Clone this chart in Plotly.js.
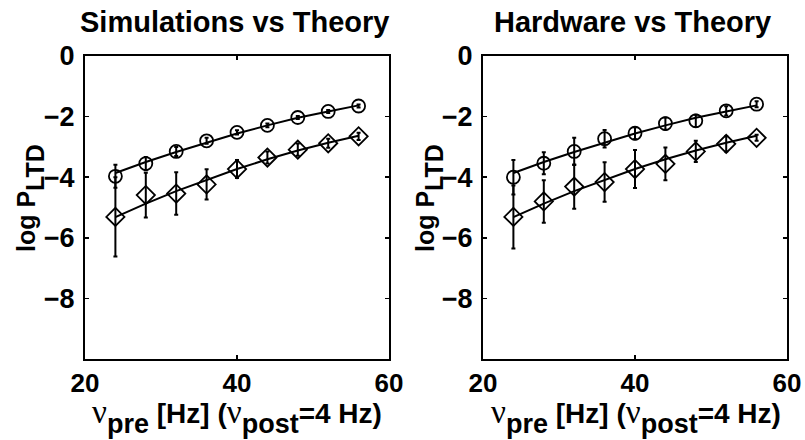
<!DOCTYPE html>
<html>
<head>
<meta charset="utf-8">
<script src="https://cdn.plot.ly/plotly-3.0.1.min.js"></script>
<style>html,body{margin:0;padding:0;background:#fff;}</style>
</head>
<body>
<div id="chart" style="width:805px;height:440px;"></div>
<script>
// Pre-synaptic rates (Hz)
var nuPre = [24, 28, 32, 36, 40, 44, 48, 52, 56];

// Theory curves (log P_LTD)
var theoryCircle  = [-3.86, -3.50, -3.17, -2.86, -2.56, -2.29, -2.04, -1.83, -1.63];
var theoryDiamond = [-5.32, -4.87, -4.46, -4.09, -3.73, -3.41, -3.12, -2.86, -2.63];

// Simulations panel
var simCircle      = [-3.97, -3.55, -3.15, -2.80, -2.52, -2.29, -2.03, -1.83, -1.65];
var simCircleErr   = [0.38, 0.22, 0.15, 0.10, 0.07, 0.06, 0.05, 0.05, 0.05];
var simDiamond     = [-5.31, -4.59, -4.54, -4.24, -3.73, -3.35, -3.09, -2.88, -2.65];
var simDiamondErr  = [1.31, 0.74, 0.70, 0.50, 0.30, 0.20, 0.20, 0.15, 0.12];

// Hardware panel
var hwCircle       = [-4.00, -3.54, -3.15, -2.73, -2.55, -2.23, -2.14, -1.81, -1.59];
var hwCircleErr    = [0.57, 0.36, 0.45, 0.29, 0.20, 0.20, 0.20, 0.15, 0.10];
var hwDiamond      = [-5.31, -4.80, -4.31, -4.16, -3.73, -3.56, -3.15, -2.90, -2.70];
var hwDiamondErr   = [1.04, 0.70, 0.73, 0.65, 0.63, 0.54, 0.35, 0.25, 0.10];

// Axis ticks and labels
var xTicks = [20, 40, 60];
var yTicks = [0, -2, -4, -6, -8];
var panelTitles = ["Simulations vs Theory", "Hardware vs Theory"];

var FONT = "Liberation Sans, Arial, Helvetica, sans-serif";

function lineTrace(y, xa, ya) {
  return {x: nuPre, y: y, xaxis: xa, yaxis: ya, mode: "lines", type: "scatter",
          line: {color: "#000", width: 2}, hoverinfo: "skip"};
}
function markTrace(y, err, sym, size, xa, ya) {
  return {x: nuPre, y: y, xaxis: xa, yaxis: ya, mode: "markers", type: "scatter",
          marker: {symbol: sym, size: size, color: "#000", line: {color: "#000", width: 1.8}},
          error_y: {type: "data", array: err, visible: true, color: "#000", thickness: 2, width: 2}};
}

var data = [
  lineTrace(theoryCircle, "x", "y"),
  lineTrace(theoryDiamond, "x", "y"),
  markTrace(simCircle, simCircleErr, "circle-open", 13, "x", "y"),
  markTrace(simDiamond, simDiamondErr, "diamond-open", 14, "x", "y"),
  lineTrace(theoryCircle, "x2", "y2"),
  lineTrace(theoryDiamond, "x2", "y2"),
  markTrace(hwCircle, hwCircleErr, "circle-open", 13, "x2", "y2"),
  markTrace(hwDiamond, hwDiamondErr, "diamond-open", 14, "x2", "y2")
];

function xax(domain, anchor) {
  return {domain: domain, anchor: anchor, range: [20, 60], tickvals: xTicks, ticktext: xTicks.map(String),
          showline: true, linecolor: "#000", linewidth: 2, mirror: "ticks", ticks: "inside",
          ticklen: 4, tickwidth: 1.5, tickcolor: "#000", showgrid: false, zeroline: false,
          ticklabelstandoff: 0,
          tickfont: {family: FONT, size: 26, color: "#000", weight: "bold"}};
}
function yax(domain, anchor) {
  return {domain: domain, anchor: anchor, range: [-10, 0], tickvals: yTicks,
          showline: true, linecolor: "#000", linewidth: 2, mirror: "ticks", ticks: "inside",
          ticklen: 4, tickwidth: 1.5, tickcolor: "#000", showgrid: false, zeroline: false,
          ticklabelstandoff: 3,
          tickfont: {family: FONT, size: 27, color: "#000", weight: "bold"}};
}

var yDom = [1 - 359/440, 1 - 56/440];
var nu = '<span style="font-family:Liberation Serif;font-weight:normal;font-size:33px">ν</span>';
function subX(t) { return '<sub><sub><span style="font-size:27px">' + t + '</span></sub></sub>'; }
function subY(t) { return '<sub><sub><span style="font-size:25px">' + t + '</span></sub></sub>'; }
var xLabel = nu + subX('pre') + ' [Hz] (' + nu + subX('post') + '=4 Hz)';
var yLabel = 'log P' + subY('LTD');

function ann(text, x, y, size, extra) {
  var a = {text: text, x: x, y: y, xref: "paper", yref: "paper", showarrow: false,
           xanchor: "center", yanchor: "middle",
           font: {family: FONT, size: size, color: "#000", weight: "bold"}};
  for (var k in extra) a[k] = extra[k];
  return a;
}

var layout = {
  width: 805, height: 440,
  margin: {l: 0, r: 0, t: 0, b: 0, autoexpand: false},
  paper_bgcolor: "#fff", plot_bgcolor: "#fff",
  showlegend: false,
  xaxis: xax([85/805, 389/805], "y"),
  yaxis: yax(yDom, "x"),
  xaxis2: xax([483/805, 787/805], "y2"),
  yaxis2: yax(yDom, "x2"),
  annotations: [
    ann(panelTitles[0], 234/805, 1 - 22/440, 29),
    ann(panelTitles[1], 632/805, 1 - 22/440, 29),
    ann(xLabel, 237/805, 1 - 441/440, 28, {yanchor: "bottom"}),
    ann(xLabel, 636/805, 1 - 441/440, 28, {yanchor: "bottom"}),
    ann(yLabel, 31/805, 1 - 198/440, 25, {textangle: -90}),
    ann(yLabel, 430/805, 1 - 198/440, 25, {textangle: -90})
  ]
};

Plotly.newPlot("chart", data, layout, {staticPlot: true, displayModeBar: false});
</script>
</body>
</html>
